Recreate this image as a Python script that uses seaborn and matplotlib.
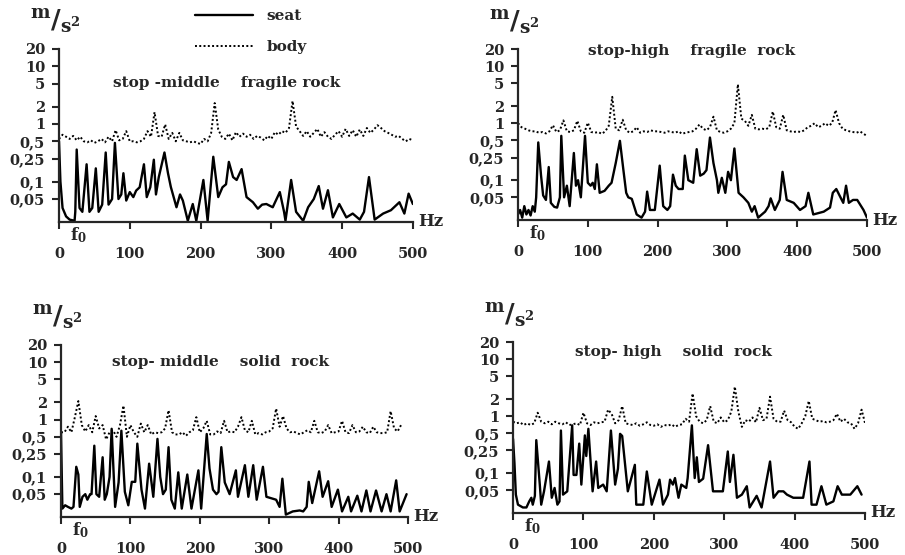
import pandas as pd
import seaborn as sns
import matplotlib.pyplot as plt
from matplotlib.ticker import NullLocator
from matplotlib.transforms import blended_transform_factory

# body curves are read on a 5 Hz grid
BODY_HZ = list(range(0, 505, 5))

# seat curves: (Hz, m/s^2) read at peaks and troughs
seat_mid_fragile = [
    (0, 0.5), (2, 0.1), (5, 0.035), (10, 0.025), (15, 0.022), (22, 0.021), (23, 0.03), (25, 0.36),
    (29, 0.035), (33, 0.03), (39, 0.2), (43, 0.03), (47, 0.035), (52, 0.17), (56, 0.03), (61, 0.04),
    (66, 0.32), (70, 0.04), (75, 0.05), (79, 0.47), (84, 0.05), (88, 0.06), (91, 0.14), (95, 0.047),
    (100, 0.066), (105, 0.054), (109, 0.07), (114, 0.08), (120, 0.2), (124, 0.054), (129, 0.08),
    (134, 0.24), (137, 0.06), (141, 0.12), (149, 0.32), (154, 0.14), (158, 0.081), (166, 0.036),
    (171, 0.06), (175, 0.047), (182, 0.021), (189, 0.041), (194, 0.021), (204, 0.107), (210, 0.021),
    (218, 0.27), (225, 0.054), (231, 0.08), (236, 0.09), (240, 0.22), (246, 0.12), (251, 0.107),
    (258, 0.165), (265, 0.054), (274, 0.044), (281, 0.034), (287, 0.04), (293, 0.041), (302, 0.036),
    (312, 0.066), (318, 0.03), (320, 0.021), (328, 0.107), (335, 0.03), (345, 0.021), (352, 0.036),
    (360, 0.05), (367, 0.084), (373, 0.034), (380, 0.071), (387, 0.024), (396, 0.041), (406, 0.024),
    (415, 0.028), (425, 0.022), (431, 0.03), (438, 0.12), (446, 0.022), (458, 0.028), (469, 0.032),
    (481, 0.044), (488, 0.028), (494, 0.062), (500, 0.041),
]
body_mid_fragile = [
    0.55, 0.65, 0.6, 0.55, 0.62, 0.52, 0.6, 0.5, 0.48, 0.52,
    0.47, 0.5, 0.55, 0.48, 0.6, 0.5, 0.78, 0.52, 0.55, 0.75,
    0.5, 0.5, 0.48, 0.5, 0.55, 0.75, 0.6, 1.6, 0.62, 0.6,
    0.98, 0.55, 0.7, 0.5, 0.7, 0.52, 0.5, 0.48, 0.5, 0.47,
    0.45, 0.55, 0.5, 0.7, 2.3, 0.8, 0.6, 0.55, 0.68, 0.52,
    0.72, 0.6, 0.68, 0.6, 0.65, 0.55, 0.62, 0.58, 0.52, 0.62,
    0.55, 0.72, 0.65, 0.75, 0.7, 0.85, 2.5, 0.9, 0.75, 0.62,
    0.75, 0.6, 0.7, 0.82, 0.6, 0.72, 0.6, 0.55, 0.65, 0.75,
    0.6, 0.82, 0.62, 0.78, 0.6, 0.8, 0.62, 0.85, 0.7, 0.8,
    0.95, 0.85, 0.75, 0.7, 0.65, 0.6, 0.62, 0.55, 0.5, 0.55,
    0.52,
]

seat_high_fragile = [
    (0, 0.025), (3, 0.03), (6, 0.022), (9, 0.035), (12, 0.025), (15, 0.03), (18, 0.024), (21, 0.035),
    (24, 0.028), (26, 0.05), (29, 0.46), (33, 0.12), (36, 0.054), (40, 0.045), (44, 0.17), (47, 0.04),
    (52, 0.034), (56, 0.033), (60, 0.05), (62, 0.6), (66, 0.05), (70, 0.08), (74, 0.035), (80, 0.3),
    (83, 0.08), (86, 0.1), (90, 0.05), (96, 0.6), (100, 0.09), (104, 0.08), (107, 0.09), (110, 0.07),
    (113, 0.19), (117, 0.06), (124, 0.065), (130, 0.08), (134, 0.09), (140, 0.2), (146, 0.49),
    (151, 0.15), (155, 0.06), (158, 0.05), (163, 0.047), (170, 0.025), (177, 0.022), (182, 0.028),
    (185, 0.063), (189, 0.03), (196, 0.03), (203, 0.18), (208, 0.035), (214, 0.03), (218, 0.035),
    (222, 0.125), (226, 0.08), (230, 0.07), (236, 0.07), (239, 0.27), (244, 0.1), (251, 0.09),
    (256, 0.35), (261, 0.12), (266, 0.13), (270, 0.15), (275, 0.56), (280, 0.2), (285, 0.1),
    (287, 0.06), (292, 0.11), (297, 0.06), (301, 0.14), (305, 0.1), (310, 0.36), (316, 0.06),
    (323, 0.05), (330, 0.04), (335, 0.028), (339, 0.035), (344, 0.022), (354, 0.028), (359, 0.035),
    (362, 0.048), (368, 0.03), (375, 0.045), (379, 0.14), (385, 0.045), (395, 0.04), (404, 0.03),
    (412, 0.035), (416, 0.06), (423, 0.025), (438, 0.028), (447, 0.033), (451, 0.06), (456, 0.07),
    (462, 0.05), (466, 0.04), (470, 0.08), (474, 0.04), (480, 0.045), (486, 0.045), (495, 0.03),
    (500, 0.022),
]
body_high_fragile = [
    1.0, 0.85, 0.8, 0.75, 0.72, 0.72, 0.68, 0.7, 0.66, 0.72,
    0.92, 0.7, 0.75, 1.12, 0.72, 0.7, 0.75, 1.1, 0.72, 0.68,
    1.02, 0.7, 0.68, 0.7, 0.65, 0.72, 0.9, 2.9, 0.8, 0.75,
    1.15, 0.75, 0.68, 0.72, 0.85, 0.68, 0.72, 0.7, 0.75, 0.72,
    0.72, 0.7, 0.68, 0.72, 0.7, 0.68, 0.72, 0.65, 0.68, 0.7,
    0.72, 0.8, 0.95, 0.8, 0.75, 0.85, 1.3, 0.75, 0.7, 0.68,
    0.72, 0.8, 1.0, 4.8, 1.2, 1.1, 0.9, 1.4, 0.8, 0.78,
    0.8, 0.78, 0.85, 1.6, 0.85, 0.8, 1.4, 0.75, 0.72, 0.7,
    0.72, 0.7, 0.75, 0.85, 0.9, 1.0, 0.85, 0.9, 1.0, 0.9,
    1.0, 1.7, 1.0, 0.8, 0.75, 0.72, 0.7, 0.68, 0.72, 0.65,
    0.6,
]

seat_mid_solid = [
    (0, 0.6), (2, 0.028), (6, 0.032), (10, 0.03), (15, 0.028), (18, 0.03), (22, 0.15), (25, 0.11),
    (27, 0.03), (31, 0.045), (35, 0.05), (38, 0.04), (42, 0.05), (44, 0.05), (48, 0.35), (51, 0.05),
    (55, 0.045), (60, 0.22), (63, 0.04), (66, 0.05), (70, 0.1), (73, 0.69), (78, 0.03), (83, 0.08),
    (87, 0.64), (92, 0.055), (97, 0.032), (102, 0.082), (107, 0.082), (110, 0.38), (116, 0.06),
    (121, 0.028), (127, 0.17), (133, 0.045), (139, 0.46), (143, 0.1), (147, 0.05), (151, 0.06),
    (155, 0.33), (159, 0.04), (164, 0.028), (169, 0.12), (174, 0.028), (182, 0.11), (188, 0.028),
    (198, 0.13), (202, 0.028), (210, 0.56), (214, 0.14), (219, 0.06), (224, 0.05), (227, 0.055),
    (231, 0.33), (236, 0.08), (243, 0.05), (252, 0.13), (255, 0.045), (265, 0.16), (270, 0.045),
    (277, 0.16), (282, 0.04), (291, 0.15), (296, 0.045), (310, 0.04), (315, 0.03), (319, 0.093),
    (324, 0.022), (334, 0.025), (344, 0.026), (349, 0.025), (354, 0.03), (357, 0.082), (362, 0.035),
    (372, 0.125), (377, 0.045), (385, 0.084), (390, 0.03), (399, 0.06), (405, 0.025), (414, 0.045),
    (418, 0.025), (427, 0.047), (433, 0.025), (440, 0.058), (446, 0.025), (454, 0.058), (462, 0.025),
    (469, 0.05), (475, 0.025), (483, 0.087), (488, 0.025), (498, 0.05),
]
body_mid_solid = [
    0.6, 0.6, 0.75, 0.6, 1.1, 2.1, 0.8, 0.62, 0.8, 0.6,
    1.15, 0.7, 0.8, 0.45, 0.6, 0.65, 0.5, 0.8, 1.75, 0.5,
    0.8, 0.6, 0.5, 0.85, 0.6, 0.8, 0.55, 0.6, 0.58, 0.6,
    0.7, 1.45, 0.6, 0.55, 0.55, 0.6, 0.52, 0.6, 0.65, 1.1,
    0.6, 0.7, 0.95, 0.55, 0.55, 0.62, 0.58, 0.95, 0.6, 0.62,
    0.6, 0.75, 1.1, 0.65, 0.6, 0.95, 0.55, 0.58, 0.55, 0.6,
    0.62, 0.7, 1.55, 0.75, 1.15, 0.7, 0.6, 0.62, 0.58, 0.55,
    0.6, 0.65, 0.6, 0.95, 0.6, 0.58, 0.62, 0.8, 0.58, 0.6,
    0.62, 0.95, 0.6, 0.58, 0.8, 0.6, 0.62, 0.75, 0.6, 0.58,
    0.75, 0.6, 0.58, 0.58, 0.6, 1.4, 0.7, 0.62, 0.8,
]

seat_high_solid = [
    (0, 0.4), (2, 0.15), (4, 0.042), (7, 0.028), (14, 0.025), (19, 0.025), (23, 0.032), (26, 0.037),
    (28, 0.028), (31, 0.04), (33, 0.38), (38, 0.063), (40, 0.028), (44, 0.048), (51, 0.16), (55, 0.037),
    (59, 0.055), (63, 0.028), (66, 0.032), (68, 0.56), (71, 0.042), (77, 0.048), (84, 0.69), (86, 0.093),
    (90, 0.093), (94, 0.33), (97, 0.063), (102, 0.46), (104, 0.2), (107, 0.6), (113, 0.048),
    (118, 0.16), (121, 0.055), (128, 0.063), (133, 0.048), (139, 0.56), (145, 0.063), (149, 0.12),
    (152, 0.49), (155, 0.45), (163, 0.048), (173, 0.14), (175, 0.028), (185, 0.028), (190, 0.107),
    (197, 0.028), (208, 0.077), (213, 0.028), (220, 0.042), (223, 0.077), (227, 0.063), (230, 0.082),
    (235, 0.037), (239, 0.063), (246, 0.055), (248, 0.082), (254, 0.69), (258, 0.082), (261, 0.19),
    (264, 0.07), (270, 0.08), (277, 0.31), (284, 0.048), (298, 0.048), (305, 0.24), (308, 0.07),
    (313, 0.21), (318, 0.037), (325, 0.042), (332, 0.059), (336, 0.025), (346, 0.04), (353, 0.025),
    (365, 0.16), (370, 0.037), (377, 0.048), (384, 0.048), (389, 0.042), (398, 0.037), (408, 0.037),
    (412, 0.037), (421, 0.16), (424, 0.028), (431, 0.028), (438, 0.059), (445, 0.028), (455, 0.032),
    (461, 0.059), (467, 0.042), (479, 0.042), (489, 0.059), (495, 0.042),
]
body_high_solid = [
    0.8, 0.75, 0.78, 0.7, 0.75, 0.7, 0.75, 1.15, 0.8, 0.75,
    0.8, 0.72, 0.8, 0.75, 0.72, 0.78, 0.7, 0.72, 0.75, 0.7,
    1.15, 0.75, 0.7, 0.78, 0.75, 0.78, 0.8, 1.3, 1.1, 0.75,
    0.85, 1.5, 0.75, 0.72, 0.7, 0.75, 0.68, 0.72, 0.78, 0.7,
    0.68, 0.72, 0.65, 0.7, 0.68, 0.72, 0.65, 0.7, 0.72, 0.9,
    0.8, 2.5, 1.0, 0.8, 0.75, 0.85, 1.5, 0.8, 0.75, 0.95,
    0.78, 0.85, 1.2, 3.3, 1.2, 0.65, 0.85, 0.8, 0.95, 0.78,
    1.4, 0.85, 0.9, 2.2, 0.9, 0.8, 0.8, 1.25, 0.85, 0.78,
    0.65, 0.6, 0.75, 1.0, 1.85, 0.9, 0.85, 0.8, 0.82, 0.78,
    0.8, 0.85, 1.1, 0.8, 0.9, 0.78, 0.75, 0.6, 0.75, 1.3,
    0.75,
]

titles = ['stop -middle    fragile rock', 'stop-high    fragile  rock',
          'stop- middle    solid  rock', 'stop- high    solid  rock']
y_ticks = [0.05, 0.1, 0.25, 0.5, 1, 2, 5, 10, 20]
y_labels = ['0,05', '0,1', '0,25', '0,5', '1', '2', '5', '10', '20']
x_ticks = [0, 100, 200, 300, 400, 500]

sns.set_style('ticks')
plt.rcParams['font.family'] = ['DejaVu Serif']
plt.rcParams['font.weight'] = 'bold'
plt.rcParams['mathtext.fontset'] = 'dejavuserif'

fig = plt.figure(figsize=(9.05, 5.55), dpi=100)

panels = [
    (seat_mid_fragile, body_mid_fragile, [0.0652, 0.600, 0.391, 0.312], (0.475, 0.80)),
    (seat_high_fragile, body_high_fragile, [0.5724, 0.6036, 0.3856, 0.308], (0.496, 0.99)),
    (seat_mid_solid, body_mid_solid, [0.0674, 0.0685, 0.3834, 0.31], (0.46, 0.90)),
    (seat_high_solid, body_high_solid, [0.5669, 0.0757, 0.389, 0.308], (0.457, 0.94)),
]

for i, (seat, body, rect, tpos) in enumerate(panels):
    ax = fig.add_axes(rect)
    s = pd.DataFrame(seat, columns=['hz', 'acc'])
    b = pd.DataFrame({'hz': BODY_HZ[:len(body)], 'acc': body})
    sns.lineplot(data=s, x='hz', y='acc', ax=ax, color='black', lw=1.7,
                 estimator=None, legend=False, label='seat')
    sns.lineplot(data=b, x='hz', y='acc', ax=ax, color='black', lw=1.4,
                 linestyle=(0, (1, 1.2)), estimator=None, legend=False, label='body')

    ax.set_yscale('log')
    ax.set_ylim(0.02, 20)
    ax.set_xlim(0, 500)
    ax.set_yticks(y_ticks)
    ax.set_yticklabels(y_labels)
    ax.yaxis.set_minor_locator(NullLocator())
    ax.set_xticks(x_ticks)
    ax.set_xlabel('')
    ax.set_ylabel('')
    sns.despine(ax=ax)
    for sp in ['left', 'bottom']:
        ax.spines[sp].set_linewidth(1.6)
    ax.tick_params(axis='both', direction='out', length=5, width=1.5, labelsize=10.5)
    ax.tick_params(axis='x', pad=13)
    ax.tick_params(axis='y', pad=5)

    ax.text(tpos[0], tpos[1], titles[i], transform=ax.transAxes, ha='center', va='center',
            fontsize=11, fontweight='bold')
    ax.text(1.014, 0, 'Hz', transform=ax.transAxes, ha='left', va='center',
            fontsize=12, fontweight='bold')
    trans = blended_transform_factory(ax.transData, ax.transAxes)
    ax.text(28, -0.075, r'$\mathbf{f_0}$', transform=trans, ha='center', va='center', fontsize=12)
    # unit label m/s^2 above the y axis
    ax.text(-0.01, 1.155, r'$^{\mathbf{m}}/_{\mathbf{s}^{\mathbf{2}}}$', transform=ax.transAxes,
            ha='center', va='center', fontsize=19)

    if i == 0:
        handles, labels = ax.get_legend_handles_labels()

fig.legend(handles, labels, loc='upper left', bbox_to_anchor=(0.205, 1.0), frameon=False,
           handlelength=3.8, handletextpad=0.9, labelspacing=1.1, borderaxespad=0.2,
           prop={'weight': 'bold', 'size': 11})

fig.savefig('out.png', dpi=100, facecolor='white')
